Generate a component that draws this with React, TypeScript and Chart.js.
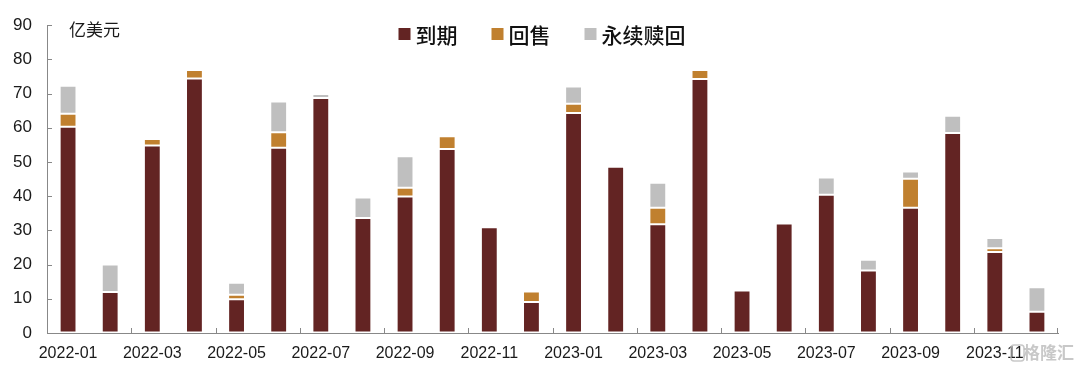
import React, { useEffect, useRef } from "react";
import { Chart, registerables } from "chart.js";

Chart.register(...registerables);

const months = [
  "2022-01", "2022-02", "2022-03", "2022-04", "2022-05", "2022-06",
  "2022-07", "2022-08", "2022-09", "2022-10", "2022-11", "2022-12",
  "2023-01", "2023-02", "2023-03", "2023-04", "2023-05", "2023-06",
  "2023-07", "2023-08", "2023-09", "2023-10", "2023-11", "2023-12",
];

// 到期
const maturity = [
  60.3, 12.0, 54.8, 74.4, 9.9, 54.2, 68.7, 33.6, 39.9, 53.8, 30.9, 9.1,
  64.3, 48.6, 31.8, 74.3, 12.4, 32.0, 40.4, 18.3, 36.6, 58.5, 23.7, 6.2,
];
// 回售
const putback = [
  3.8, null, 1.9, 2.5, 1.3, 4.5, null, null, 2.6, 3.7, null, 3.0,
  2.7, null, 4.8, 2.6, null, null, null, null, 8.5, null, 1.1, null,
];
// 永续赎回
const perpetual = [
  8.2, 8.0, null, null, 3.5, 9.0, 1.2, 6.0, 9.2, null, null, null,
  5.1, null, 7.3, null, null, null, 5.1, 3.1, 2.1, 5.0, 3.0, 7.2,
];

const seriesNames = ["到期", "回售", "永续赎回"];
const seriesColors = ["#632423", "#C0802F", "#BFBFBF"];
const unitLabel = "亿美元";
const watermark = "格隆汇";

const Y_MIN = 0;
const Y_MAX = 90;
const Y_STEP = 10;

const CJK = '"Noto Sans CJK SC", "Noto Sans", sans-serif';
const LATIN = '"Liberation Sans", Arial, sans-serif';

const decorPlugin = {
  id: "decor",
  afterDraw(chart: any) {
    const ctx = chart.ctx;
    const x = chart.scales.x;
    const y = chart.scales.y;
    const area = chart.chartArea;
    ctx.save();
    // inward tick marks
    ctx.strokeStyle = "#888888";
    ctx.lineWidth = 1;
    ctx.beginPath();
    for (let v = Y_MIN; v <= Y_MAX; v += Y_STEP) {
      const py = Math.round(y.getPixelForValue(v)) + 0.5;
      ctx.moveTo(area.left, py);
      ctx.lineTo(area.left + 5, py);
    }
    const n = chart.data.labels.length;
    const half = (area.right - area.left) / n / 2;
    for (let i = 2; i <= n; i += 2) {
      const px =
        i < n
          ? Math.round(x.getPixelForValue(i) - half) + 0.5
          : Math.round(area.right) - 0.5;
      ctx.moveTo(px, area.bottom);
      ctx.lineTo(px, area.bottom - 5);
    }
    ctx.stroke();

    // unit label
    ctx.fillStyle = "#1a1a1a";
    ctx.font = `17px ${CJK}`;
    ctx.textBaseline = "middle";
    ctx.textAlign = "left";
    ctx.fillText(unitLabel, area.left + 22, 30);

    // legend
    ctx.font = `500 21px ${CJK}`;
    const box = 12;
    const gapBoxText = 5;
    const gapItems = 34;
    const ds = chart.data.datasets;
    const widths = ds.map((d: any) => box + gapBoxText + ctx.measureText(d.label).width);
    const total = widths.reduce((a: number, b: number) => a + b, 0) + gapItems * (ds.length - 1);
    let lx = 542 - total / 2;
    const ly = 34;
    ds.forEach((d: any, i: number) => {
      ctx.fillStyle = d.backgroundColor;
      ctx.fillRect(lx, ly - box / 2, box, box);
      ctx.fillStyle = "#111111";
      ctx.fillText(d.label, lx + box + gapBoxText, ly + 1);
      lx += widths[i] + gapItems;
    });

    // watermark
    ctx.font = `bold 17px ${CJK}`;
    ctx.fillStyle = "rgba(190,190,190,0.85)";
    ctx.textAlign = "right";
    ctx.fillText(watermark, 1074, 353);
    ctx.strokeStyle = "rgba(190,190,190,0.85)";
    ctx.lineWidth = 1.5;
    ctx.beginPath();
    const wx = 1011, wy = 345, ww = 13, wh = 16, r = 3;
    ctx.moveTo(wx + r, wy);
    ctx.lineTo(wx + ww - r, wy);
    ctx.quadraticCurveTo(wx + ww, wy, wx + ww, wy + r);
    ctx.lineTo(wx + ww, wy + wh - r);
    ctx.quadraticCurveTo(wx + ww, wy + wh, wx + ww - r, wy + wh);
    ctx.lineTo(wx + r, wy + wh);
    ctx.quadraticCurveTo(wx, wy + wh, wx, wy + wh - r);
    ctx.lineTo(wx, wy + r);
    ctx.quadraticCurveTo(wx, wy, wx + r, wy);
    ctx.stroke();
    ctx.restore();
  },
};

export default function App() {
  const ref = useRef<HTMLCanvasElement | null>(null);

  useEffect(() => {
    document.body.style.margin = "0";
    const canvas = ref.current;
    if (!canvas) return;
    const datasets = [maturity, putback, perpetual].map((data, i) => ({
      label: seriesNames[i],
      data,
      backgroundColor: seriesColors[i],
      borderColor: "rgba(255,255,255,0.3)",
      borderWidth: 1,
      borderSkipped: false,
      barPercentage: 0.4,
      categoryPercentage: 1,
      stack: "s",
    }));
    const chart = new Chart(canvas, {
      type: "bar",
      data: { labels: months, datasets },
      options: {
        animation: false,
        responsive: false,
        devicePixelRatio: 1,
        layout: { padding: { top: 25, right: 22, bottom: 0, left: 0 } },
        plugins: {
          legend: { display: false },
          tooltip: { enabled: false },
        },
        scales: {
          x: {
            stacked: true,
            grid: { display: true, drawOnChartArea: false, drawTicks: false },
            border: { display: true, color: "#888888", width: 1 },
            ticks: {
              autoSkip: false,
              maxRotation: 0,
              minRotation: 0,
              padding: 11,
              color: "#1a1a1a",
              font: { family: LATIN, size: 16 },
              callback: (_v: any, i: number) => (i % 2 === 0 ? months[i] : ""),
            },
            afterFit: (s: any) => {
              s.height = 37;
            },
          },
          y: {
            stacked: true,
            min: Y_MIN,
            max: Y_MAX,
            grid: { display: true, drawOnChartArea: false, drawTicks: false },
            border: { display: true, color: "#888888", width: 1 },
            ticks: {
              stepSize: Y_STEP,
              padding: 15,
              color: "#1a1a1a",
              font: { family: LATIN, size: 17 },
            },
            afterFit: (s: any) => {
              s.width = 47;
            },
          },
        },
      },
      plugins: [decorPlugin],
    });
    return () => chart.destroy();
  }, []);

  return (
    <div style={{ position: "fixed", left: 0, top: 0, width: 1080, height: 370, background: "#fff" }}>
      <canvas ref={ref} width={1080} height={370} style={{ width: 1080, height: 370 }} />
    </div>
  );
}
